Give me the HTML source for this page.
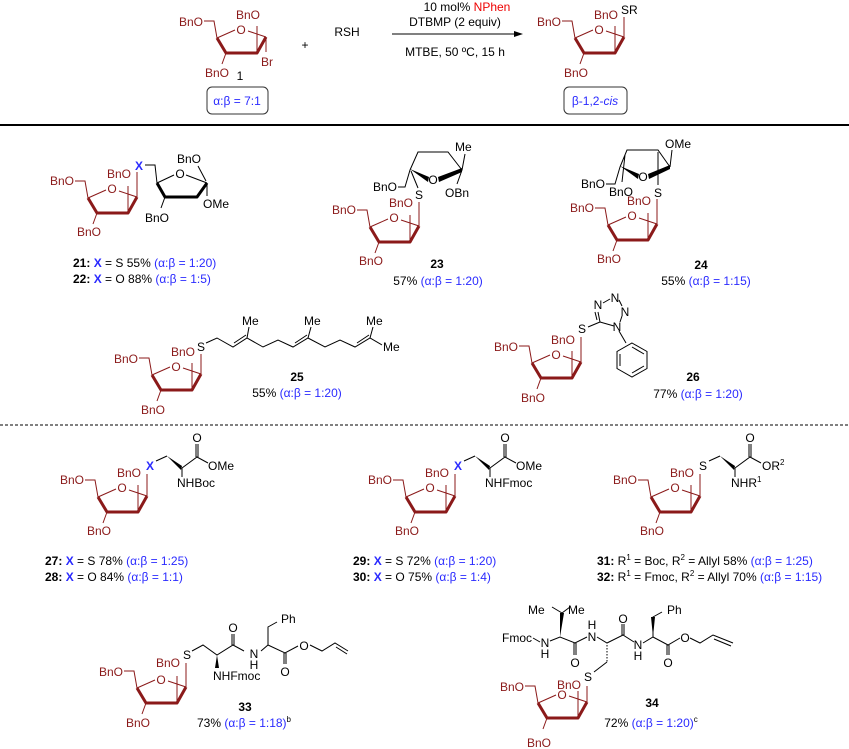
<!DOCTYPE html>
<html><head><meta charset="utf-8"><style>
body{margin:0;background:#fff}
svg{display:block;font-family:"Liberation Sans",sans-serif}
text{font-size:12px}
.r{fill:#8b1a1a}
.k{fill:#000}
.b{fill:#2a2aff}
.bd{font-weight:bold}
.m{text-anchor:middle}
.e{text-anchor:end}
</style></head><body>
<svg width="849" height="749" viewBox="0 0 849 749">
<defs>
<g id="sug" fill="none" stroke="#8b1a1a">
<path d="M-13,-17 L-3,-17 L0,0 M0,0 L18,-8 M31,-7 L49,-1 M40,15 L40,-12 M9,15 L5,26" stroke-width="1"/>
<path d="M0,0 L9,15 L40,15 L49,-1" stroke-width="3" stroke-linejoin="round"/>
</g>
</defs>

<!-- ===== top scheme ===== -->
<use href="#sug" x="217" y="38"/>
<path d="M266,37 L266,52" stroke="#8b1a1a"/>
<text class="r e" x="203" y="26">BnO</text><text class="r m" x="241" y="34">O</text>
<text class="r m" x="248" y="19">BnO</text><text class="r m" x="217" y="77">BnO</text>
<text class="r m" x="267" y="66">Br</text>
<text class="k m" x="240" y="80">1</text>
<rect x="207" y="87" width="61" height="27" rx="5" fill="none" stroke="#333"/>
<text class="b m" x="237" y="105">α:β = 7:1</text>
<text class="k m" x="305" y="49">+</text>
<text class="k m" x="347" y="36">RSH</text>
<text class="k m" x="467" y="11">10 mol% <tspan fill="#e00">NPhen</tspan></text>
<text class="k m" x="455" y="26">DTBMP (2 equiv)</text>
<line x1="392" y1="34" x2="516" y2="34" stroke="#000"/><path d="M523,34 L514,31 L514,37Z"/>
<text class="k m" x="455" y="56">MTBE, 50 ºC, 15 h</text>
<use href="#sug" x="575" y="38"/>
<path d="M624,37 L624,17" stroke="#8b1a1a"/>
<text class="r e" x="561" y="26">BnO</text><text class="r m" x="599" y="34">O</text>
<text class="r m" x="606" y="19">BnO</text><text class="r m" x="576" y="77">BnO</text>
<text class="k" x="621" y="14">SR</text>
<rect x="564" y="87" width="63" height="27" rx="5" fill="none" stroke="#333"/>
<text class="b m" x="595" y="105">β-1,2-<tspan font-style="italic">cis</tspan></text>
<line x1="0" y1="125" x2="849" y2="125" stroke="#000" stroke-width="2"/>
<line x1="0" y1="425" x2="849" y2="425" stroke="#000" stroke-dasharray="3,2"/>

<!-- ===== 21/22 ===== -->
<use href="#sug" x="88" y="198"/>
<path d="M137,197 L137,172" stroke="#8b1a1a"/>
<text class="r e" x="74" y="185">BnO</text><text class="r m" x="112" y="193">O</text>
<text class="r m" x="119" y="178">BnO</text><text class="r m" x="89" y="236">BnO</text>
<text class="b bd m" x="139" y="170">X</text>
<g stroke="#000" fill="none">
<path d="M145,165 L155,165 L157,183 M157,183 L174,175 M186,175 L207,183 M207,183 L207,196 M198,166 L206,181 M165,197 L161,208"/>
<path d="M157,183 L165,197 L197,197 L207,183" stroke-width="3" stroke-linejoin="round"/>
</g>
<text class="k m" x="180" y="178">O</text><text class="k m" x="189" y="163">BnO</text>
<text class="k" x="203" y="208">OMe</text><text class="k m" x="157" y="222">BnO</text>
<text class="k" x="73" y="267"><tspan class="bd">21:</tspan>  <tspan class="bd" fill="#2a2aff">X</tspan> = S  55% <tspan fill="#2a2aff">(α:β = 1:20)</tspan></text>
<text class="k" x="73" y="283"><tspan class="bd">22:</tspan>  <tspan class="bd" fill="#2a2aff">X</tspan> = O 88% <tspan fill="#2a2aff">(α:β = 1:5)</tspan></text>

<!-- ===== 23 ===== -->
<use href="#sug" x="370" y="227"/>
<path d="M419,226 L419,202" stroke="#8b1a1a"/>
<text class="r e" x="356" y="214">BnO</text><text class="r m" x="394" y="222">O</text>
<text class="r m" x="401" y="207">BnO</text><text class="r m" x="371" y="265">BnO</text>
<text class="k m" x="419" y="199">S</text>
<g stroke="#000" fill="none">
<path d="M418,188 L411,171 M410,170 L418,152 L448,152 L462,170 M462,170 L465,154 M462,170 L457,184 M398,187 L405,187 L410,170"/>
</g>
<path d="M410,169 L428,182 L429,177Z M438,177 L462,168 L462,172 L439,182Z" fill="#000"/>
<text class="k m" x="433" y="184">O</text><text class="k" x="455" y="151">Me</text>
<text class="k" x="445" y="197">OBn</text><text class="k e" x="397" y="191">BnO</text>
<text class="k bd m" x="437" y="268">23</text>
<text class="k m" x="438" y="285">57% <tspan fill="#2a2aff">(α:β = 1:20)</tspan></text>

<!-- ===== 24 ===== -->
<use href="#sug" x="608" y="225"/>
<path d="M657,224 L657,199" stroke="#8b1a1a"/>
<text class="r e" x="594" y="212">BnO</text><text class="r m" x="632" y="220">O</text>
<text class="r m" x="639" y="205">BnO</text><text class="r m" x="609" y="263">BnO</text>
<text class="k m" x="658" y="197">S</text>
<g stroke="#000" fill="none">
<path d="M620,167 L627,150 L658,150 L670,167 M670,167 L672,150 M606,184 L615,184 L620,167 M625,155 L622,182 M658,152 L658,185"/>
</g>
<path d="M620,166 L638,179 L639,174Z M648,174 L670,165 L670,169 L649,179Z" fill="#000"/>
<text class="k m" x="643" y="181">O</text><text class="k" x="665" y="148">OMe</text>
<text class="k e" x="605" y="188">BnO</text><text class="k m" x="621" y="196">BnO</text>
<text class="k bd m" x="701" y="269">24</text>
<text class="k m" x="706" y="285">55% <tspan fill="#2a2aff">(α:β = 1:15)</tspan></text>

<!-- ===== 25 ===== -->
<use href="#sug" x="152" y="375"/>
<path d="M201,374 L201,354" stroke="#8b1a1a"/>
<text class="r e" x="138" y="363">BnO</text><text class="r m" x="176" y="371">O</text>
<text class="r m" x="183" y="356">BnO</text><text class="r m" x="153" y="414">BnO</text>
<text class="k m" x="201" y="351">S</text>
<g stroke="#000" fill="none">
<path d="M206,343 L217,338 L233,347 L247,338 L263,347 L278,340 L293,347 L308,338 L325,347 L340,340 L355,347 L370,338 L382,345 M234,343 L246,335 M295,343 L307,335 M357,343 L369,335 M247,338 L249,327 M308,338 L311,327 M370,338 L373,327"/>
</g>
<text class="k" x="242" y="325">Me</text><text class="k" x="304" y="325">Me</text><text class="k" x="366" y="325">Me</text><text class="k" x="383" y="351">Me</text>
<text class="k bd m" x="297" y="381">25</text>
<text class="k m" x="297" y="397">55% <tspan fill="#2a2aff">(α:β = 1:20)</tspan></text>

<!-- ===== 26 ===== -->
<use href="#sug" x="532" y="363"/>
<path d="M581,362 L581,337" stroke="#8b1a1a"/>
<text class="r e" x="518" y="351">BnO</text><text class="r m" x="556" y="359">O</text>
<text class="r m" x="563" y="344">BnO</text><text class="r m" x="533" y="402">BnO</text>
<text class="k m" x="582" y="333">S</text>
<g stroke="#000" fill="none">
<path d="M588,327 L600,322 M600,322 L614,326 M600,322 L598,312 M597,320 L595,312 M603,303 L610,299 M619,300 L622,306 M622,316 L620,322 M619,331 L626,343"/>
<path d="M632,343 L647,351.5 L647,368.5 L632,377 L617,368.5 L617,351.5 Z M632,347 L644,354 M644,366 L632,373 M620,366 L620,354"/>
</g>
<text class="k m" x="598" y="309">N</text><text class="k m" x="615" y="302">N</text>
<text class="k m" x="625" y="316">N</text><text class="k m" x="617" y="331">N</text>
<text class="k bd m" x="693" y="381">26</text>
<text class="k m" x="698" y="398">77% <tspan fill="#2a2aff">(α:β = 1:20)</tspan></text>

<!-- ===== 27/28 ===== -->
<use href="#sug" x="98" y="497"/>
<path d="M147,496 L147,474" stroke="#8b1a1a"/>
<text class="r e" x="84" y="484">BnO</text><text class="r m" x="122" y="492">O</text>
<text class="r m" x="129" y="477">BnO</text><text class="r m" x="99" y="535">BnO</text>
<text class="b bd m" x="150" y="470">X</text>
<g stroke="#000" fill="none"><path d="M156,461 L167,456 M182,468 L197,457 L208,463 M196,457 L196,444 M198,457 L198,444 M182,468 L182,477"/></g>
<path d="M167,456 L182,466 L181,470Z" fill="#000"/>
<text class="k m" x="197" y="442">O</text><text class="k" x="208" y="470">OMe</text><text class="k" x="177" y="487">NHBoc</text>
<text class="k" x="45" y="565"><tspan class="bd">27:</tspan> <tspan class="bd" fill="#2a2aff">X</tspan> = S   78% <tspan fill="#2a2aff">(α:β = 1:25)</tspan></text>
<text class="k" x="45" y="581"><tspan class="bd">28:</tspan> <tspan class="bd" fill="#2a2aff">X</tspan> = O  84% <tspan fill="#2a2aff">(α:β = 1:1)</tspan></text>

<!-- ===== 29/30 ===== -->
<use href="#sug" x="406" y="497"/>
<path d="M455,496 L455,474" stroke="#8b1a1a"/>
<text class="r e" x="392" y="484">BnO</text><text class="r m" x="430" y="492">O</text>
<text class="r m" x="437" y="477">BnO</text><text class="r m" x="407" y="535">BnO</text>
<text class="b bd m" x="458" y="470">X</text>
<g stroke="#000" fill="none"><path d="M464,461 L475,456 M490,468 L505,457 L516,463 M504,457 L504,444 M506,457 L506,444 M490,468 L490,477"/></g>
<path d="M475,456 L490,466 L489,470Z" fill="#000"/>
<text class="k m" x="505" y="442">O</text><text class="k" x="516" y="470">OMe</text><text class="k" x="485" y="487">NHFmoc</text>
<text class="k" x="353" y="565"><tspan class="bd">29:</tspan> <tspan class="bd" fill="#2a2aff">X</tspan> = S  72% <tspan fill="#2a2aff">(α:β = 1:20)</tspan></text>
<text class="k" x="353" y="581"><tspan class="bd">30:</tspan> <tspan class="bd" fill="#2a2aff">X</tspan> = O  75% <tspan fill="#2a2aff">(α:β = 1:4)</tspan></text>

<!-- ===== 31/32 ===== -->
<use href="#sug" x="651" y="497"/>
<path d="M700,496 L700,474" stroke="#8b1a1a"/>
<text class="r e" x="637" y="484">BnO</text><text class="r m" x="675" y="492">O</text>
<text class="r m" x="682" y="477">BnO</text><text class="r m" x="652" y="535">BnO</text>
<text class="k m" x="703" y="470">S</text>
<g stroke="#000" fill="none"><path d="M709,461 L720,456 M735,468 L750,457 L761,463 M749,457 L749,444 M751,457 L751,444 M735,468 L735,477"/></g>
<path d="M720,456 L735,466 L734,470Z" fill="#000"/>
<text class="k m" x="750" y="442">O</text><text class="k" x="762" y="470">OR<tspan font-size="8" dy="-5">2</tspan></text><text class="k" x="731" y="487">NHR<tspan font-size="8" dy="-5">1</tspan></text>
<text class="k" x="597" y="565"><tspan class="bd">31:</tspan> R<tspan font-size="8" dy="-5">1</tspan><tspan dy="5"> = Boc, R</tspan><tspan font-size="8" dy="-5">2</tspan><tspan dy="5"> = Allyl   58% </tspan><tspan fill="#2a2aff">(α:β = 1:25)</tspan></text>
<text class="k" x="597" y="581"><tspan class="bd">32:</tspan> R<tspan font-size="8" dy="-5">1</tspan><tspan dy="5"> = Fmoc, R</tspan><tspan font-size="8" dy="-5">2</tspan><tspan dy="5"> = Allyl 70% </tspan><tspan fill="#2a2aff">(α:β = 1:15)</tspan></text>

<!-- ===== 33 ===== -->
<use href="#sug" x="137" y="688"/>
<path d="M186,687 L186,663" stroke="#8b1a1a"/>
<text class="r e" x="123" y="676">BnO</text><text class="r m" x="161" y="684">O</text>
<text class="r m" x="168" y="667">BnO</text><text class="r m" x="138" y="727">BnO</text>
<text class="k m" x="187" y="659">S</text>
<g stroke="#000" fill="none">
<path d="M192,651 L203,645 L217,655 L233,645 L244,651 M232,645 L232,634 M234,645 L234,634 M261,651 L268,645 L285,653 L298,646 M268,645 L268,627 L277,622 M284,653 L284,664 M286,653 L286,664 M310,645 L322,651 L335,643 L348,651 M336,647 L347,654"/>
</g>
<path d="M217,655 L215,668 L219,668Z" fill="#000"/>
<text class="k m" x="233" y="632">O</text><text class="k m" x="254" y="658">N</text><text class="k m" x="254" y="669">H</text>
<text class="k" x="213" y="680">NHFmoc</text><text class="k" x="281" y="623">Ph</text>
<text class="k m" x="285" y="676">O</text><text class="k m" x="304" y="650">O</text>
<text class="k bd m" x="245" y="711">33</text>
<text class="k m" x="244" y="727">73% <tspan fill="#2a2aff">(α:β = 1:18)</tspan><tspan font-size="8" dy="-5">b</tspan></text>

<!-- ===== 34 ===== -->
<use href="#sug" x="538" y="703"/>
<path d="M587,702 L587,686" stroke="#8b1a1a"/>
<text class="r e" x="524" y="691">BnO</text><text class="r m" x="562" y="699">O</text>
<text class="r m" x="569" y="689">BnO</text><text class="r m" x="539" y="747">BnO</text>
<g stroke="#000" fill="none">
<path d="M533,638 L540,642 M550,641 L560,637 L575,643 L587,637 M562,613 L552,607 M562,613 L570,607 M574,643 L574,655 M576,643 L576,655 M597,637 L607,643 L623,635 L634,642 M607,662 L594,672 M622,635 L622,624 M624,635 L624,624 M643,643 L653,637 L668,645 L680,638 M653,637 L653,617 L662,612 M667,645 L667,655 M669,645 L669,655 M690,638 L700,643 L713,635 L733,643 M714,639 L731,646"/>
<path d="M607,645 L607,662" stroke-dasharray="1.5,1.5"/>
</g>
<path d="M560,637 L560,613 L564,613Z M653,637 L651,617 L655,617Z" fill="#000"/>
<text class="k" x="528" y="614">Me</text><text class="k" x="568" y="614">Me</text>
<text class="k e" x="532" y="642">Fmoc</text>
<text class="k m" x="545" y="647">N</text><text class="k m" x="545" y="658">H</text>
<text class="k m" x="575" y="667">O</text>
<text class="k m" x="592" y="641">N</text><text class="k m" x="592" y="629">H</text>
<text class="k m" x="623" y="623">O</text>
<text class="k m" x="638" y="649">N</text><text class="k m" x="638" y="660">H</text>
<text class="k" x="667" y="614">Ph</text>
<text class="k m" x="668" y="667">O</text><text class="k m" x="685" y="642">O</text>
<text class="k m" x="588" y="681">S</text>
<text class="k bd m" x="652" y="707">34</text>
<text class="k m" x="651" y="727">72% <tspan fill="#2a2aff">(α:β = 1:20)</tspan><tspan font-size="8" dy="-5">c</tspan></text>
</svg>
</body></html>
